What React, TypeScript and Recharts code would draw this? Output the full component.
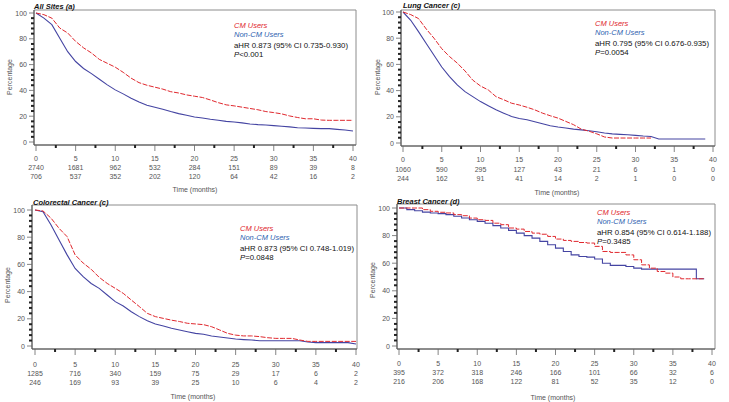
import { LineChart, Line, XAxis, YAxis, ReferenceArea } from "recharts";

// follow-up time, months
const months = [0, 1, 2, 3, 4, 5, 6, 7, 8, 9, 10, 11, 12, 13, 14, 15, 16, 17, 18, 19, 20, 21, 22, 23, 24, 25, 26, 27, 28, 29, 30, 31, 32, 33, 34, 35, 36, 37, 38, 39, 40];
const xTicks = [0, 2.5, 5, 7.5, 10, 12.5, 15, 17.5, 20, 22.5, 25, 27.5, 30, 32.5, 35, 37.5, 40];
const yTicks = [0, 4, 8, 12, 16, 20, 24, 28, 32, 36, 40, 44, 48, 52, 56, 60, 64, 68, 72, 76, 80, 84, 88, 92, 96, 100];

// survival (%)
const allCm = [100, 98.7, 96, 88.3, 84.5, 78, 73, 69, 64, 61, 58, 54, 49.5, 46, 44, 42.5, 41, 39, 38, 36.5, 35.5, 34.5, 32.6, 30.5, 28.8, 28, 27, 26, 25, 23.6, 22.8, 21.8, 20.2, 19, 18, 18, 17, 16.8, 16.8, 16.8, 16.8];
const allNon = [100, 96, 91, 80.5, 70, 62.4, 57, 53, 48.7, 44.3, 40.4, 37.3, 34, 31, 28.5, 27, 25.4, 23.6, 22, 20.7, 19.4, 18.6, 17.6, 16.8, 16, 15.5, 14.8, 14, 13.5, 13.2, 12.7, 12.2, 11.7, 11.1, 10.9, 10.6, 10.4, 10.4, 9.8, 9.3, 8.5];
const lungCm = [100, 98, 95, 87, 80, 72, 66, 61, 55, 48, 43.5, 40.5, 35.4, 33, 30.4, 29, 27.3, 25.3, 22.8, 20.8, 19, 16.5, 14, 10.6, 9, 7, 4.6, 3.8, 3.8, 3.8, 3.8, 3.8, 3.8, null, null, null, null, null, null, null, null];
const lungNon = [100, 93.7, 85, 76, 67, 58, 50.6, 44.3, 39.2, 35.4, 31.6, 28.4, 25.3, 22.8, 20.3, 18.7, 17.7, 16.2, 14.7, 13.2, 12.2, 11.4, 10.6, 10, 9.4, 8.6, 7.6, 7, 6.6, 6.3, 5.8, 5.3, 5, 3, 3, 3, 3, 3, 3, 3, null];
const coloCm = [100, 99.3, 94, 86.5, 80.4, 67, 61, 56.4, 50.5, 46, 42.4, 38.7, 33.8, 29, 24, 21.6, 20.3, 19, 18, 16.7, 16.2, 15.7, 14.2, 11.8, 9.3, 8, 7.4, 7.4, 6.9, 6.1, 5.6, 5.6, 5.6, 4.4, 3.4, 3.4, 3.4, 3.4, 3.4, 3.4, 3.4];
const coloNon = [100, 98.8, 89, 78, 67, 57, 51, 46, 42.4, 37.5, 32.6, 29.4, 25.2, 21.6, 18.6, 16.2, 14.7, 13, 11.8, 10.5, 9.3, 8.6, 7.4, 6.6, 5.9, 5.1, 4.7, 4.4, 3.9, 3.9, 3.9, 3.9, 3.9, 3.9, 2.9, 2.5, 2.5, 2.5, 2.5, 2.5, 1.5];
const breastCm = [100, 100, 100, 98.8, 97.6, 96.9, 96.4, 95.2, 94.4, 92.7, 91.5, 91, 89, 87.9, 85.5, 84.7, 83, 81.8, 81, 79.4, 77.5, 76.5, 75.8, 75, 74.6, 72.2, 68.5, 67.8, 67.8, 66, 62.5, 58.8, 56.4, 54, 52.8, 50, 48.7, 48.7, 48.7, 48.7, null];
const breastNon = [100, 98.8, 98, 97, 96.4, 95.9, 95.2, 94, 92.7, 91.5, 90.3, 89, 87.2, 85.5, 83.8, 81.8, 80, 78.2, 75.8, 73.4, 70.9, 68.5, 66, 64.9, 64.4, 63, 60, 58.4, 58.4, 57.6, 56.4, 55.7, 55.7, 55.7, 55.7, 55.7, 55.7, 55.7, 48.7, 48.7, null];

// numbers at risk at 0, 5, 10 ... 40 months
const allRiskCm = [2740, 1681, 962, 532, 284, 151, 89, 39, 8];
const allRiskNon = [706, 537, 352, 202, 120, 64, 42, 16, 2];
const lungRiskCm = [1060, 590, 295, 127, 43, 21, 6, 1, 0];
const lungRiskNon = [244, 162, 91, 41, 14, 2, 1, 0, 0];
const coloRiskCm = [1285, 716, 340, 159, 75, 29, 17, 6, 2];
const coloRiskNon = [246, 169, 93, 39, 25, 10, 6, 4, 2];
const breastRiskCm = [395, 372, 318, 246, 166, 101, 66, 32, 6];
const breastRiskNon = [216, 206, 168, 122, 81, 52, 35, 12, 0];

const RED = "#e0282e";
const BLUE = "#4444a2";
const FONT = "'Liberation Sans', Arial, sans-serif";

const panels = [
  {
    title: "All Sites (a)", cm: allCm, non: allNon, riskCm: allRiskCm, riskNon: allRiskNon,
    hr: "aHR 0.873 (95% CI 0.735-0.930)", p: "<0.001", step: false,
    left: 0, top: 0, L: 34, T: 10, R: 356, B: 145, x0: 36, x40: 353, y100: 13, y0: 142,
    titleXY: [34, 6], legXY: [234, 25], pctXY: [9, 77], timeXY: [195, 189], rows: [13, 22, 31],
  },
  {
    title: "Lung Cancer (c)", cm: lungCm, non: lungNon, riskCm: lungRiskCm, riskNon: lungRiskNon,
    hr: "aHR 0.795 (95% CI 0.676-0.935)", p: "=0.0054", step: false,
    left: 365, top: 0, L: 401, T: 10, R: 715, B: 146, x0: 403, x40: 713, y100: 12, y0: 143,
    titleXY: [38, 5], legXY: [230, 23], pctXY: [12, 77], timeXY: [192, 192], rows: [13, 23, 32],
  },
  {
    title: "Colorectal Cancer (c)", cm: coloCm, non: coloNon, riskCm: coloRiskCm, riskNon: coloRiskNon,
    hr: "aHR 0.873 (95% CI 0.748-1.019)", p: "=0.0848", step: false,
    left: 0, top: 200, L: 32, T: 205, R: 357, B: 349, x0: 35, x40: 356, y100: 210, y0: 346,
    titleXY: [33, 2], legXY: [240, 28], pctXY: [7, 85], timeXY: [193, 196], rows: [15, 24, 33],
  },
  {
    title: "Breast Cancer (d)", cm: breastCm, non: breastNon, riskCm: breastRiskCm, riskNon: breastRiskNon,
    hr: "aHR 0.854 (95% CI 0.614-1.188)", p: "=0.3485", step: true,
    left: 365, top: 200, L: 397, T: 204, R: 715, B: 349, x0: 399, x40: 712, y100: 208, y0: 346,
    titleXY: [32, 1], legXY: [232, 12], pctXY: [7, 80], timeXY: [188, 197], rows: [14, 23, 32],
  },
];

function XTick({ x, y, payload, riskCm, riskNon, rows }: any) {
  const v = payload.value;
  if (v % 5 !== 0) {
    return <line x1={x} x2={x} y1={y} y2={y + 3} stroke="#222" strokeWidth={2} />;
  }
  const i = v / 5;
  const txt = { x, textAnchor: "middle" as const, fontSize: 7, fill: "#555", fontFamily: FONT, dominantBaseline: "central" as const };
  return (
    <g>
      <line x1={x} x2={x} y1={y} y2={y + 6} stroke="#666" strokeWidth={0.8} />
      <text {...txt} y={y + rows[0]}>{v}</text>
      <text {...txt} y={y + rows[1]}>{riskCm[i]}</text>
      <text {...txt} y={y + rows[2]}>{riskNon[i]}</text>
    </g>
  );
}

function YTick({ x, y, payload }: any) {
  const v = payload.value;
  if (v % 20 !== 0) {
    return <line x1={x - 3} x2={x} y1={y} y2={y} stroke="#222" strokeWidth={2} />;
  }
  return (
    <g>
      <line x1={x - 5} x2={x} y1={y} y2={y} stroke="#666" strokeWidth={0.8} />
      <text x={x - 7} y={y} textAnchor="end" dominantBaseline="central" fontSize={7} fill="#555" fontFamily={FONT}>
        {v}
      </text>
    </g>
  );
}

function KmPanel({ cfg }: any) {
  const W = 364;
  const H = 200;
  const pxX = (cfg.x40 - cfg.x0) / 40;
  const xMin = -(cfg.x0 - cfg.L) / pxX;
  const xMax = 40 + (cfg.R - cfg.x40) / pxX;
  const pxY = (cfg.y0 - cfg.y100) / 100;
  const yMax = 100 + (cfg.y100 - cfg.T) / pxY;
  const yMin = -(cfg.B - cfg.y0) / pxY;
  const data = months.map((t, i) => ({ t, cm: cfg.cm[i], non: cfg.non[i] }));
  const curve = cfg.step ? "stepAfter" : "linear";
  const [lx, ly] = cfg.legXY;

  return (
    <div style={{ position: "absolute", left: cfg.left, top: cfg.top, width: W, height: H }}>
      <LineChart
        width={W}
        height={H}
        data={data}
        margin={{ top: cfg.T - cfg.top, right: cfg.left + W - cfg.R, bottom: 0, left: 0 }}
      >
        <XAxis
          dataKey="t"
          type="number"
          domain={[xMin, xMax]}
          allowDataOverflow
          ticks={xTicks}
          interval={0}
          height={cfg.top + H - cfg.B}
          tickSize={0}
          tickMargin={0}
          tickLine={false}
          axisLine={{ stroke: "#555" }}
          tick={(p: any) => <XTick {...p} riskCm={cfg.riskCm} riskNon={cfg.riskNon} rows={cfg.rows} />}
        />
        <YAxis
          type="number"
          domain={[yMin, yMax]}
          allowDataOverflow
          ticks={yTicks}
          interval={0}
          width={cfg.L - cfg.left}
          tickSize={0}
          tickMargin={0}
          tickLine={false}
          axisLine={{ stroke: "#555" }}
          tick={(p: any) => <YTick {...p} />}
        />
        <ReferenceArea x1={xMin} x2={xMax} y1={yMin} y2={yMax} fill="none" stroke="#8c8c8c" strokeWidth={1} />
        <Line dataKey="non" type={curve} stroke={BLUE} strokeWidth={1.1} dot={false} isAnimationActive={false} />
        <Line dataKey="cm" type={curve} stroke={RED} strokeWidth={1} strokeDasharray="5 1.5" dot={false} isAnimationActive={false} />
      </LineChart>
      <svg
        width={W}
        height={H}
        style={{ position: "absolute", left: 0, top: 0, overflow: "visible", pointerEvents: "none" }}
        fontFamily={FONT}
      >
        <text x={cfg.titleXY[0]} y={cfg.titleXY[1]} dominantBaseline="central" fontSize={7.5} fontWeight="bold" fontStyle="italic" fill="#111">
          {cfg.title}
        </text>
        <text x={lx} y={ly} dominantBaseline="central" fontSize={7.5} fontStyle="italic" fill={RED}>CM Users</text>
        <text x={lx} y={ly + 9} dominantBaseline="central" fontSize={7.5} fontStyle="italic" fill="#2f5fb0">Non-CM Users</text>
        <text x={lx} y={ly + 20} dominantBaseline="central" fontSize={7.8} fill="#111">{cfg.hr}</text>
        <text x={lx} y={ly + 29} dominantBaseline="central" fontSize={7.8} fill="#111">
          <tspan fontStyle="italic">P</tspan>
          {cfg.p}
        </text>
        <text
          x={cfg.pctXY[0]}
          y={cfg.pctXY[1]}
          transform={`rotate(-90 ${cfg.pctXY[0]} ${cfg.pctXY[1]})`}
          textAnchor="middle"
          dominantBaseline="central"
          fontSize={7}
          fill="#555"
        >
          Percentage
        </text>
        <text x={cfg.timeXY[0]} y={cfg.timeXY[1]} textAnchor="middle" dominantBaseline="central" fontSize={7} fill="#555">
          Time (months)
        </text>
      </svg>
    </div>
  );
}

export default function App() {
  return (
    <div style={{ position: "absolute", left: 0, top: 0, width: 729, height: 402, background: "#fff", overflow: "hidden" }}>
      {panels.map((cfg) => (
        <KmPanel key={cfg.title} cfg={cfg} />
      ))}
    </div>
  );
}
